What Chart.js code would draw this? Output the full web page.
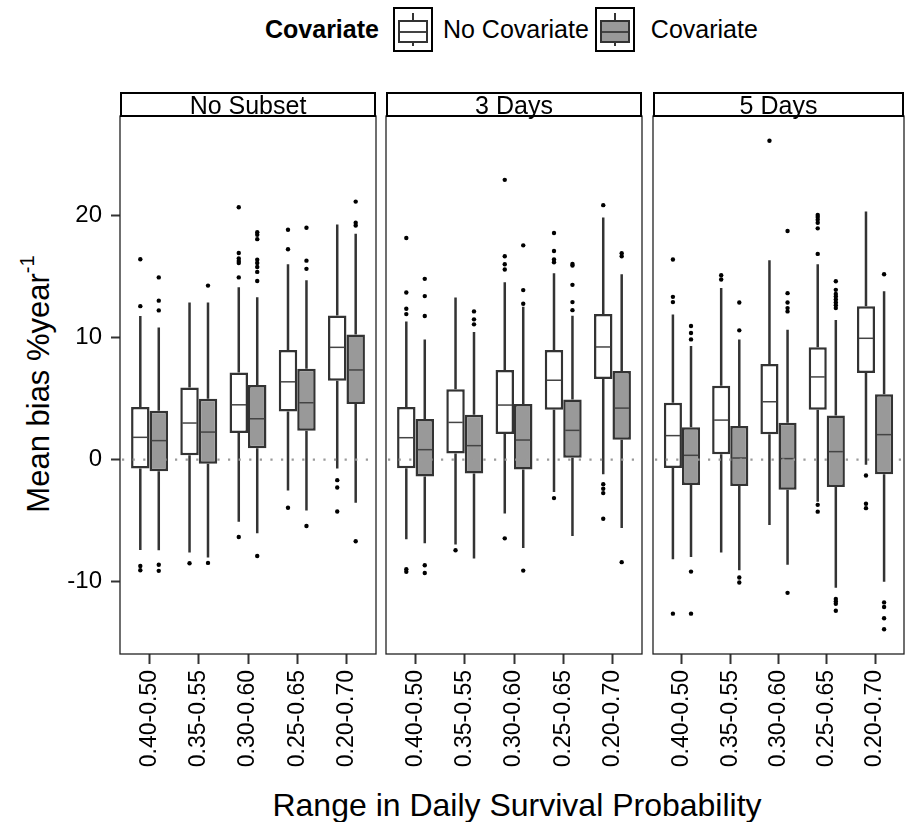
<!DOCTYPE html>
<html>
<head>
<meta charset="utf-8">
<script src="https://cdn.jsdelivr.net/npm/chart.js@4.4.1/dist/chart.umd.min.js"></script>
<style>
  html, body { margin:0; padding:0; }
  body { width:908px; height:822px; background:#fff; position:relative; overflow:hidden;
         font-family:"Liberation Sans", Arial, Helvetica, sans-serif; color:#000; }
  canvas { position:absolute; }
  .strip { position:absolute; top:92px; height:25px; border:2px solid #000; box-sizing:border-box;
           text-align:center; font-size:25px; line-height:22px; white-space:nowrap; background:#fff; }
  .ytitle { position:absolute; left:38px; top:384px; transform:translate(-50%,-50%) rotate(-90deg);
            font-size:31px; white-space:nowrap; }
  .ytitle sup { font-size:20px; position:relative; top:-3px; }
  .xtitle { position:absolute; left:0; width:1034px; top:787px; text-align:center; font-size:32px; white-space:nowrap; }
  .legend { position:absolute; left:265px; top:7px; height:45px; display:flex; align-items:center; font-size:25px; white-space:nowrap; }
  .legend .lt { font-weight:bold; margin-right:14px; }
  .key { position:relative; width:36px; height:41px; border:2px solid #000; box-sizing:content-box; background:#fff; }
  .key .wh { position:absolute; left:17px; width:2.5px; background:#333; top:4px; bottom:4px; }
  .key .bx { position:absolute; left:3px; right:3px; top:11px; height:19px; border:2.5px solid #333; background:#fff; }
  .key .md { position:absolute; left:0; right:0; top:9px; height:1.5px; background:#444; }
  .key.gray .bx { background:#999; }
  .legend .l1 { margin-left:10px; margin-right:6px; }
  .legend .l2 { margin-left:16px; }
</style>
</head>
<body>

<div class="legend">
  <span class="lt">Covariate</span>
  <div class="key"><div class="wh"></div><div class="bx"><div class="md"></div></div></div>
  <span class="l1">No Covariate</span>
  <div class="key gray"><div class="wh"></div><div class="bx"><div class="md"></div></div></div>
  <span class="l2">Covariate</span>
</div>

<div class="ytitle">Mean bias %year<sup>-1</sup></div>
<div class="xtitle">Range in Daily Survival Probability</div>

<canvas id="c0" width="380" height="716"></canvas>
<canvas id="c1" width="276" height="716"></canvas>
<canvas id="c2" width="265" height="716"></canvas>

<script>
// ---------------- DATA ----------------
const categories = ['0.40-0.50', '0.35-0.55', '0.30-0.60', '0.25-0.65', '0.20-0.70'];
const panelTitles = ['No Subset', '3 Days', '5 Days'];
const seriesNames = ['No Covariate', 'Covariate'];
const yTickValues = [-10, 0, 10, 20];

// each entry: [lower whisker, Q1, median, Q3, upper whisker]
const noSubsetNoCov = [
  [-7.39, -0.73, 1.82, 4.30, 11.74],
  [-7.60,  0.35, 2.99, 5.90, 12.85],
  [-5.08,  2.17, 4.48, 7.12, 14.10],
  [-2.53,  3.94, 6.36, 8.96, 15.97],
  [-0.73,  6.44, 9.18, 11.79, 19.23]
];
const noSubsetCov = [
  [-7.42, -0.95, 1.55, 3.99, 10.81],
  [-8.00, -0.35, 2.25, 4.97, 12.85],
  [-6.03,  0.92, 3.34, 6.09, 13.28],
  [-4.16,  2.36, 4.65, 7.42, 14.67],
  [-3.53,  4.54, 7.33, 10.24, 18.47]
];
const days3NoCov = [
  [-6.52, -0.71, 1.79, 4.30, 11.30],
  [-6.95,  0.49, 3.04, 5.76, 13.26],
  [-4.40,  2.09, 4.46, 7.33, 14.50],
  [-2.66,  4.07, 6.49, 8.96, 15.24],
  [-1.19,  6.60, 9.21, 11.90, 19.80]
];
const days3Cov = [
  [-6.85, -1.39, 0.81, 3.31, 9.83],
  [-8.09, -1.14, 1.14, 3.67, 10.43],
  [-7.23, -0.81, 1.60, 4.54, 12.50],
  [-6.25,  0.16, 2.39, 4.92, 11.76],
  [-5.60,  1.63, 4.21, 7.25, 15.16]
];
const days5NoCov = [
  [-8.15, -0.68, 1.96, 4.65, 11.87],
  [-7.60,  0.43, 3.23, 6.03, 14.04],
  [-5.35,  2.07, 4.73, 7.82, 16.30],
  [-3.45,  4.07, 6.76, 9.18, 15.97],
  [-0.43,  7.09, 9.92, 12.55, 20.29]
];
const days5Cov = [
  [-7.96, -2.07, 0.35, 2.64, 9.29],
  [-9.05, -2.15, 0.13, 2.74, 9.83],
  [-8.61, -2.47, 0.08, 3.02, 10.62],
  [-10.49, -2.25, 0.65, 3.61, 11.41],
  [-10.00, -1.19, 2.04, 5.35, 13.77]
];

// outliers per category
const noSubsetNoCovOut = [
  [-8.7, -9.05, 12.55, 16.38],
  [-8.48],
  [-6.33, 14.9, 16.08, 16.24, 16.44, 16.9, 20.64],
  [-3.94, 17.2, 18.8],
  [-1.68, -2.28, -4.24]
];
const noSubsetCovOut = [
  [-8.6, -9.1, 12.2, 13.0, 14.9],
  [-8.45, 14.23],
  [-7.88, 14.6, 15.35, 15.75, 16.08, 16.35, 18.03, 18.39, 18.6],
  [-5.43, 15.6, 16.27, 18.96],
  [-6.68, 19.15, 19.37, 21.1]
];
const days3NoCovOut = [
  [-8.96, -9.18, 11.9, 12.33, 13.67, 18.12],
  [-7.42],
  [-6.44, 15.54, 15.97, 16.63, 22.88],
  [-3.15, 16.14, 16.36, 17.06, 18.53],
  [-2.01, -2.39, -2.74, -4.84, 20.81]
];
const days3CovOut = [
  [-8.64, -9.27, 11.74, 13.37, 14.78],
  [11.06, 11.47, 12.12],
  [-9.08, 12.75, 13.86, 17.52],
  [12.22, 12.88, 14.29, 15.87, 16.0],
  [-8.39, 16.63, 16.87]
];
const days5NoCovOut = [
  [-12.6, 12.88, 13.31, 16.36],
  [14.73, 15.08],
  [26.08],
  [-3.7, -4.26, 16.82, 18.91, 19.37, 19.62, 19.83, 20.0],
  [-1.3, -3.61, -3.97]
];
const days5CovOut = [
  [-9.16, -12.6, 9.83, 10.35, 10.92],
  [-9.64, -10.05, 10.57, 12.85],
  [-10.9, 12.12, 12.39, 12.85, 13.61, 18.69],
  [-11.4, -11.6, -11.8, -12.36, 12.39, 12.63, 12.85, 13.1, 13.34, 13.55, 13.88, 14.59],
  [-11.68, -12.06, -12.98, -13.88, 15.16]
];

const panelStats = [[noSubsetNoCov, noSubsetCov], [days3NoCov, days3Cov], [days5NoCov, days5Cov]];
const panelOutliers = [[noSubsetNoCovOut, noSubsetCovOut], [days3NoCovOut, days3CovOut], [days5NoCovOut, days5CovOut]];

// ---------------- STYLE / LAYOUT ----------------
const FONT = "'Liberation Sans', Arial, Helvetica, sans-serif";
const fills = ['#ffffff', '#999999'];
const boxLine = '#333333';
const dodgeWidth = 0.75;
const layout = [
  { left: 0,   width: 380, padL: 0,  padR: 4,  showY: true  },
  { left: 376, width: 276, padL: 10, padR: 10, showY: false },
  { left: 643, width: 265, padL: 10, padR: 1,  showY: false }
];
const canvasTop = 106;

function zeroPad(sc) { sc.paddingTop = 0; sc.paddingBottom = 0; sc.paddingLeft = 0; sc.paddingRight = 0; }

function makePanel(p) {
  const L = layout[p];
  const cv = document.getElementById('c' + p);
  cv.style.left = L.left + 'px';
  cv.style.top = canvasTop + 'px';

  const strip = document.createElement('div');
  strip.className = 'strip';
  strip.textContent = panelTitles[p];
  document.body.appendChild(strip);

  const stats = panelStats[p];
  const outs = panelOutliers[p];

  const datasets = [0, 1].map(s => ({
    type: 'bar',
    label: seriesNames[s],
    data: stats[s].map((v, i) => ({ x: i, y: [v[1], v[3]] })),
    backgroundColor: fills[s],
    borderColor: boxLine,
    borderWidth: 2.5,
    borderSkipped: false,
    categoryPercentage: dodgeWidth,
    barPercentage: 1,
    order: 2
  }));
  [0, 1].forEach(s => {
    const off = (s === 0 ? -1 : 1) * dodgeWidth / 4;
    const pts = [];
    outs[s].forEach((arr, i) => arr.forEach(v => pts.push({ x: i + off, y: v })));
    datasets.push({
      type: 'scatter',
      label: seriesNames[s] + ' outliers',
      data: pts,
      pointRadius: 2.2,
      pointBackgroundColor: '#000',
      pointBorderWidth: 0,
      order: 1
    });
  });

  const boxParts = {
    id: 'boxParts' + p,
    beforeDatasetsDraw(chart) {
      const ctx = chart.ctx, y = chart.scales.y;
      ctx.save();
      ctx.strokeStyle = boxLine;
      ctx.lineWidth = 2.5;
      [0, 1].forEach(s => {
        chart.getDatasetMeta(s).data.forEach((bar, i) => {
          const v = stats[s][i];
          ctx.beginPath();
          ctx.moveTo(bar.x, y.getPixelForValue(v[0]));
          ctx.lineTo(bar.x, y.getPixelForValue(v[1]));
          ctx.moveTo(bar.x, y.getPixelForValue(v[3]));
          ctx.lineTo(bar.x, y.getPixelForValue(v[4]));
          ctx.stroke();
        });
      });
      ctx.restore();
    },
    afterDatasetsDraw(chart) {
      const ctx = chart.ctx, y = chart.scales.y, a = chart.chartArea;
      ctx.save();
      ctx.strokeStyle = '#444';
      ctx.lineWidth = 1.5;
      [0, 1].forEach(s => {
        chart.getDatasetMeta(s).data.forEach((bar, i) => {
          const py = y.getPixelForValue(stats[s][i][2]);
          ctx.beginPath();
          ctx.moveTo(bar.x - bar.width / 2 + 2, py);
          ctx.lineTo(bar.x + bar.width / 2 - 2, py);
          ctx.stroke();
        });
      });
      const z = y.getPixelForValue(0);
      ctx.strokeStyle = '#9a9a9a';
      ctx.lineWidth = 2.2;
      ctx.setLineDash([2.2, 8.4]);
      ctx.beginPath();
      ctx.moveTo(a.left + 2, z);
      ctx.lineTo(a.right, z);
      ctx.stroke();
      ctx.setLineDash([]);
      ctx.strokeStyle = '#222';
      ctx.lineWidth = 1.3;
      ctx.strokeRect(a.left, a.top, a.right - a.left, a.bottom - a.top);
      ctx.restore();
    }
  };

  const chart = new Chart(cv, {
    type: 'bar',
    data: { datasets },
    options: {
      responsive: false,
      animation: false,
      events: [],
      layout: { padding: { top: 10, bottom: 0, left: L.padL, right: L.padR } },
      plugins: { legend: { display: false }, tooltip: { enabled: false }, title: { display: false } },
      scales: {
        x: {
          type: 'linear',
          min: -0.6, max: 4.6,
          offset: false,
          afterBuildTicks: sc => { sc.ticks = categories.map((c, i) => ({ value: i })); },
          afterFit: sc => { sc.height = 168; zeroPad(sc); },
          ticks: {
            callback: v => categories[v],
            autoSkip: false, minRotation: 90, maxRotation: 90,
            padding: 6, color: '#000',
            font: { family: FONT, size: 23 }
          },
          grid: { offset: false, drawOnChartArea: false, drawTicks: true, tickLength: 10, tickWidth: 2, tickColor: '#333' },
          border: { display: false }
        },
        y: {
          type: 'linear',
          display: L.showY,
          min: -15.9, max: 28.1,
          afterBuildTicks: sc => { sc.ticks = yTickValues.map(v => ({ value: v })); },
          afterFit: sc => { sc.width = L.showY ? 120 : 0; zeroPad(sc); },
          ticks: { color: '#000', padding: 9, font: { family: FONT, size: 24 } },
          grid: { drawOnChartArea: false, drawTicks: true, tickLength: 9, tickWidth: 2, tickColor: '#333' },
          border: { display: false }
        }
      }
    },
    plugins: [boxParts]
  });

  const a = chart.chartArea;
  strip.style.left = (L.left + a.left) + 'px';
  strip.style.width = (a.right - a.left) + 'px';
}

[0, 1, 2].forEach(makePanel);
</script>
</body>
</html>
